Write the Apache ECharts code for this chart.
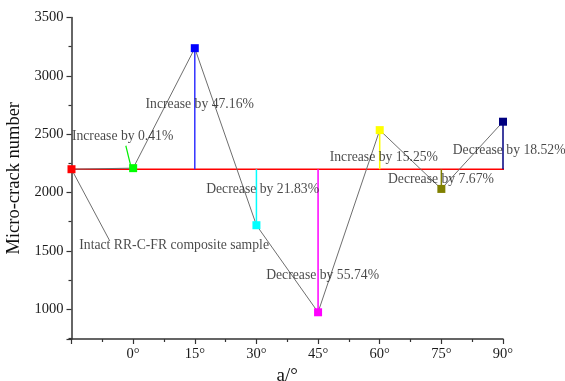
<!DOCTYPE html>
<html>
<head>
<meta charset="utf-8">
<script src="https://cdn.jsdelivr.net/npm/echarts@6/dist/echarts.min.js"></script>
<style>html,body{margin:0;padding:0;background:#fff}#c{width:565px;height:381px}</style>
</head>
<body>
<div id="c"></div>
<script>
// ---- data ----
var angles = [-15, 0, 15, 30, 45, 60, 75, 90];
var crackNumbers = [2200, 2209, 3237, 1720, 974, 2535, 2031, 2607];
var pointColors = ['#ff0000', '#00ff00', '#0000ff', '#00ffff', '#ff00ff', '#ffff00', '#808000', '#000080'];
var dropColors = [null, null, '#3333ff', '#00ffff', '#ff00ff', '#ffff00', '#808000', '#000080'];
var baseline = 2200;
var baselineX = [-15, 93];
var xTickLabels = ['', '0°', '15°', '30°', '45°', '60°', '75°', '90°'];
var yTicks = [1000, 1500, 2000, 2500, 3000, 3500];

var annoText = ['Increase by 0.41%', 'Increase by 47.16%', 'Decrease by 21.83%', 'Intact RR-C-FR composite sample',
  'Decrease by 55.74%', 'Increase by 15.25%', 'Decrease by 7.67%', 'Decrease by 18.52%'];
var annoX = [-2.56, 16.2, 31.5, 9.97, 46.1, 61.0, 74.9, 91.5];
var annoY = [2478, 2755, 2027, 1551, 1294, 2301, 2113, 2364];

var greenLeaderX = [-1.78, -0.64];
var greenLeaderY = [2401, 2238];
var grayLeaderX = [-15, -5.68];
var grayLeaderY = [2200, 1585];

// ---- build ----
var series = [];
series.push({type: 'line', data: baselineX.map(function (x) { return [x, baseline]; }), symbol: 'none',
  lineStyle: {color: '#ff0000', width: 1.5}, clip: false, z: 3, silent: true});
angles.forEach(function (a, i) {
  if (!dropColors[i]) return;
  series.push({type: 'line', data: [[a, baseline], [a, crackNumbers[i]]], symbol: 'none',
    lineStyle: {color: dropColors[i], width: 1.5}, z: 3, silent: true});
});
series.push({type: 'line', data: angles.map(function (a, i) {
    return {value: [a, crackNumbers[i]], itemStyle: {color: pointColors[i]}};
  }),
  symbol: 'rect', symbolSize: 8, showSymbol: true,
  lineStyle: {color: '#6e6e6e', width: 1}, z: 5, clip: false});
series.push({type: 'line', data: greenLeaderX.map(function (x, i) { return [x, greenLeaderY[i]]; }),
  symbol: 'none', lineStyle: {color: '#00ee00', width: 1.2}, z: 4});
series.push({type: 'line', data: grayLeaderX.map(function (x, i) { return [x, grayLeaderY[i]]; }),
  symbol: 'none', lineStyle: {color: '#6e6e6e', width: 1}, z: 4});
series.push({type: 'scatter', symbolSize: 0, z: 6, clip: false,
  data: annoText.map(function (t, i) { return {value: [annoX[i], annoY[i]], name: t}; }),
  label: {show: true, position: 'inside', formatter: function (p) { return p.name; },
    fontFamily: 'Liberation Serif', fontSize: 13.7, color: '#1a1a1a', align: 'center', verticalAlign: 'middle'}});

var chart = echarts.init(document.getElementById('c'), null, {renderer: 'canvas'});
chart.setOption({
  animation: false,
  backgroundColor: '#fff',
  grid: {left: 71.5, right: 62, top: 17.5, bottom: 42, containLabel: false, outerBoundsMode: 'none'},
  xAxis: {
    type: 'value', min: -15, max: 90, interval: 15,
    name: 'a/°', nameLocation: 'middle', nameGap: 25,
    nameTextStyle: {fontFamily: 'Liberation Serif', fontSize: 19, color: '#111'},
    axisLine: {onZero: false, lineStyle: {color: '#333', width: 1.5}},
    axisTick: {show: true, length: 5, lineStyle: {color: '#333', width: 1.2}},
    minorTick: {show: true, splitNumber: 2, length: 3, lineStyle: {color: '#333', width: 1.2}},
    splitLine: {show: false},
    axisLabel: {fontFamily: 'Liberation Serif', fontSize: 14.5, color: '#1a1a1a', margin: 8,
      formatter: function (v) { var i = angles.indexOf(v); return i >= 0 ? xTickLabels[i] : ''; }}
  },
  yAxis: {
    type: 'value', min: 745, max: 3500, minInterval: 500, maxInterval: 500,
    name: 'Micro-crack number', nameLocation: 'middle', nameGap: 38,
    nameTextStyle: {fontFamily: 'Liberation Serif', fontSize: 18.5, color: '#111'},
    axisLine: {show: true, onZero: false, lineStyle: {color: '#333', width: 1.5}},
    axisTick: {show: true, length: 5, lineStyle: {color: '#333', width: 1.2}},
    minorTick: {show: true, splitNumber: 2, length: 3, lineStyle: {color: '#333', width: 1.2}},
    splitLine: {show: false},
    axisLabel: {fontFamily: 'Liberation Serif', fontSize: 14.5, color: '#1a1a1a', margin: 8,
      formatter: function (v) { return yTicks.indexOf(v) >= 0 ? String(v) : ''; }}
  },
  series: series
});
</script>
</body>
</html>
